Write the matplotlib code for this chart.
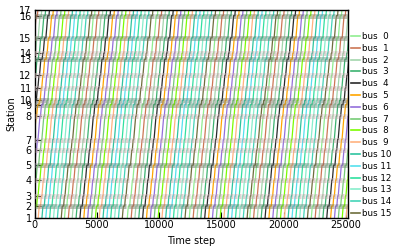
import numpy as np
import matplotlib
matplotlib.use("Agg")
import matplotlib.pyplot as plt
from matplotlib.collections import LineCollection
from matplotlib.colors import to_rgb

# ---------------- data ----------------
station_labels = [str(i) for i in range(1, 18)]
station_pos = [0, 11.5, 21.5, 37.5, 52.5, 67.5, 78.2, 101.5, 113.2, 117.5,
               129.8, 142.5, 158.8, 164.8, 180.2, 202.5, 208.2]
# running time (time steps) between consecutive stations
run_time = [75, 65, 105, 98, 98, 70, 155, 78, 28, 80, 84, 108, 40, 100, 148, 38]
# dwell time (time steps) at each station
dwell = [0, 110, 45, 45, 110, 45, 45, 45, 110, 70, 45, 45, 110, 45, 110, 100, 0]
major_stations = [2, 5, 9, 10, 13, 15, 16]

bus_names = [f"bus {i:2d}" for i in range(16)]
bus_colors = ["#90ee90", "#cc7755", "#a3d6ad", "#3cb371", "#2a2a2a", "#ffa500",
              "#9370db", "#77cc77", "#7cfc00", "#ffb380", "#2ec4a0", "#55e0ee",
              "#30e0a0", "#88eecc", "#44d4b8", "#6e6e3c"]
# times at which each bus leaves station 1 on each lap
lap_starts = [
    [-2480, 2410, 7450, 12420, 17270, 22210],
    [-2180, 2720, 7760, 12730, 17580, 22520],
    [-1870, 3030, 8060, 13040, 17880, 22830],
    [-1560, 3340, 8370, 13350, 18190, 23140],
    [-1250, 3650, 8680, 13660, 18500, 23450],
    [-940, 3960, 8990, 13970, 18810, 23760],
    [-630, 4270, 9300, 14280, 19120, 24070],
    [-320, 4580, 9610, 14590, 19430, 24380],
    [-10, 4890, 9920, 14900, 19740, 24690],
    [300, 5200, 10230, 15200, 20050, 25000],
    [600, 5500, 10530, 15510, 20350],
    [910, 5810, 10840, 15820, 20660],
    [1220, 6120, 11150, 16130, 20970],
    [1530, 6430, 11460, 16440, 21280],
    [1840, 6740, 11770, 16750, 21590],
    [2150, 7050, 12080, 17060, 21900],
]
xmax = 25150

# ---------------- figure ----------------
fig = plt.figure(figsize=(3.99, 2.5), dpi=100)
ax = fig.add_axes([34.5 / 399, 1 - 217.5 / 250, (348 - 34.5) / 399, (217.5 - 10) / 250])

gray_major = np.array(to_rgb("#6c756a"))
band_minor = to_rgb("#c2a8a8")

band_segs, band_cols = [], []
for b, starts in enumerate(lap_starts):
    col = bus_colors[b]
    for t0 in starts:
        xs, ys = [], []
        t = t0
        for s in range(17):
            if s > 0:
                t += run_time[s - 1]
            xs.append(t); ys.append(station_pos[s])
            if dwell[s] > 0:
                xs.append(t + dwell[s]); ys.append(station_pos[s])
                seg = [(t - 60, station_pos[s]), (t + dwell[s] + 120, station_pos[s])]
                band_segs.append(seg)
                if (s + 1) in major_stations:
                    c = 0.25 * np.array(to_rgb(col)) + 0.75 * gray_major
                    band_cols.append((*c, 0.5))
                else:
                    band_cols.append((*band_minor, 0.5))
                t += dwell[s]
        ax.plot(xs, ys, color=col, lw=0.9, zorder=2)

ax.add_collection(LineCollection(band_segs, colors=band_cols, linewidths=3.6, zorder=3))

ax.set_xlim(0, xmax)
ax.set_ylim(station_pos[0], station_pos[-1])
ax.set_xticks([0, 5000, 10000, 15000, 20000, 25000])
ax.set_yticks(station_pos)
ax.set_yticklabels(station_labels)
ax.tick_params(direction="in", labelsize=7, length=4, width=0.8, pad=2)
for sp in ax.spines.values():
    sp.set_linewidth(1.0)
ax.set_xlabel("Time step", fontsize=7, labelpad=4)
ax.set_ylabel("Station", fontsize=7, labelpad=2)

handles = [plt.Line2D([], [], color=c, lw=1.2) for c in bus_colors]
fig.legend(handles, bus_names, loc="center left", bbox_to_anchor=(351 / 399, 0.5),
           frameon=False, fontsize=6.3, labelspacing=0.32, handlelength=1.0,
           handletextpad=0.25, borderpad=0, borderaxespad=0)

fig.savefig("out.png", dpi=100)
